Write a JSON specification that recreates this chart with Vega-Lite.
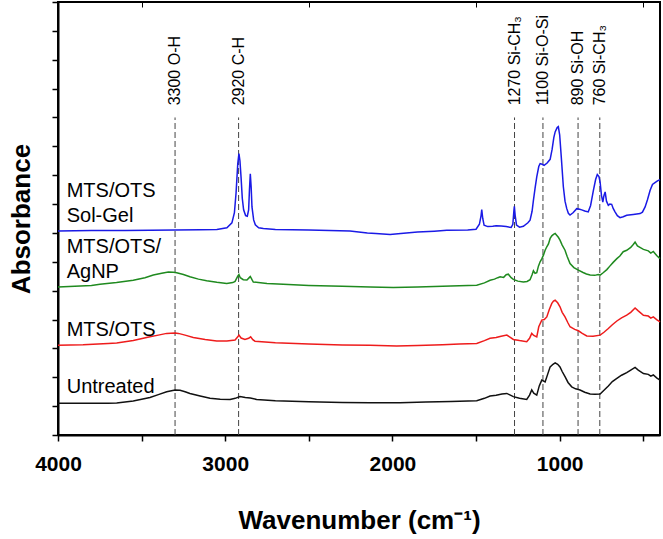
{
  "$schema": "https://vega.github.io/schema/vega-lite/v6.json",
  "width": 602,
  "height": 433,
  "autosize": {"type": "none"},
  "padding": {"left": 58, "top": 2, "right": 3, "bottom": 104},
  "background": "white",
  "config": {
    "view": {"stroke": "#000", "strokeWidth": 2},
    "font": "Liberation Sans"
  },
  "datasets": {
    "spectra": [
      {"series":"Sol-Gel","wn":4000,"abs":7.07},{"series":"Sol-Gel","wn":3800,"abs":7.08},{"series":"Sol-Gel","wn":3600,"abs":7.08},{"series":"Sol-Gel","wn":3450,"abs":7.09},{"series":"Sol-Gel","wn":3300,"abs":7.1},{"series":"Sol-Gel","wn":3150,"abs":7.11},{"series":"Sol-Gel","wn":3050,"abs":7.12},{"series":"Sol-Gel","wn":2990,"abs":7.18},{"series":"Sol-Gel","wn":2960,"abs":7.35},{"series":"Sol-Gel","wn":2945,"abs":7.7},{"series":"Sol-Gel","wn":2935,"abs":8.4},{"series":"Sol-Gel","wn":2925,"abs":9.4},{"series":"Sol-Gel","wn":2918,"abs":9.75},{"series":"Sol-Gel","wn":2912,"abs":9.5},{"series":"Sol-Gel","wn":2905,"abs":8.9},{"series":"Sol-Gel","wn":2898,"abs":8.2},{"series":"Sol-Gel","wn":2890,"abs":7.8},{"series":"Sol-Gel","wn":2878,"abs":7.6},{"series":"Sol-Gel","wn":2868,"abs":7.58},{"series":"Sol-Gel","wn":2860,"abs":7.8},{"series":"Sol-Gel","wn":2855,"abs":8.5},{"series":"Sol-Gel","wn":2850,"abs":9.05},{"series":"Sol-Gel","wn":2845,"abs":8.6},{"series":"Sol-Gel","wn":2840,"abs":7.9},{"series":"Sol-Gel","wn":2830,"abs":7.45},{"series":"Sol-Gel","wn":2820,"abs":7.28},{"series":"Sol-Gel","wn":2800,"abs":7.18},{"series":"Sol-Gel","wn":2772,"abs":7.15},{"series":"Sol-Gel","wn":2700,"abs":7.12},{"series":"Sol-Gel","wn":2500,"abs":7.1},{"series":"Sol-Gel","wn":2254,"abs":7.07},{"series":"Sol-Gel","wn":2150,"abs":7.0},{"series":"Sol-Gel","wn":2100,"abs":6.98},{"series":"Sol-Gel","wn":2014,"abs":6.95},{"series":"Sol-Gel","wn":1950,"abs":6.98},{"series":"Sol-Gel","wn":1850,"abs":7.03},{"series":"Sol-Gel","wn":1750,"abs":7.06},{"series":"Sol-Gel","wn":1675,"abs":7.09},{"series":"Sol-Gel","wn":1550,"abs":7.1},{"series":"Sol-Gel","wn":1500,"abs":7.13},{"series":"Sol-Gel","wn":1480,"abs":7.3},{"series":"Sol-Gel","wn":1470,"abs":7.6},{"series":"Sol-Gel","wn":1466,"abs":7.81},{"series":"Sol-Gel","wn":1460,"abs":7.5},{"series":"Sol-Gel","wn":1452,"abs":7.27},{"series":"Sol-Gel","wn":1430,"abs":7.22},{"series":"Sol-Gel","wn":1400,"abs":7.23},{"series":"Sol-Gel","wn":1380,"abs":7.25},{"series":"Sol-Gel","wn":1350,"abs":7.24},{"series":"Sol-Gel","wn":1320,"abs":7.22},{"series":"Sol-Gel","wn":1290,"abs":7.19},{"series":"Sol-Gel","wn":1280,"abs":7.3},{"series":"Sol-Gel","wn":1274,"abs":7.75},{"series":"Sol-Gel","wn":1271,"abs":7.92},{"series":"Sol-Gel","wn":1266,"abs":7.6},{"series":"Sol-Gel","wn":1258,"abs":7.27},{"series":"Sol-Gel","wn":1240,"abs":7.2},{"series":"Sol-Gel","wn":1217,"abs":7.23},{"series":"Sol-Gel","wn":1190,"abs":7.35},{"series":"Sol-Gel","wn":1177,"abs":7.44},{"series":"Sol-Gel","wn":1165,"abs":7.75},{"series":"Sol-Gel","wn":1157,"abs":8.13},{"series":"Sol-Gel","wn":1147,"abs":8.55},{"series":"Sol-Gel","wn":1137,"abs":8.94},{"series":"Sol-Gel","wn":1125,"abs":9.3},{"series":"Sol-Gel","wn":1117,"abs":9.4},{"series":"Sol-Gel","wn":1105,"abs":9.38},{"series":"Sol-Gel","wn":1093,"abs":9.34},{"series":"Sol-Gel","wn":1075,"abs":9.42},{"series":"Sol-Gel","wn":1057,"abs":9.55},{"series":"Sol-Gel","wn":1045,"abs":9.9},{"series":"Sol-Gel","wn":1035,"abs":10.3},{"series":"Sol-Gel","wn":1027,"abs":10.5},{"series":"Sol-Gel","wn":1015,"abs":10.65},{"series":"Sol-Gel","wn":1008,"abs":10.68},{"series":"Sol-Gel","wn":1000,"abs":10.4},{"series":"Sol-Gel","wn":990,"abs":9.6},{"series":"Sol-Gel","wn":978,"abs":8.6},{"series":"Sol-Gel","wn":968,"abs":8.1},{"series":"Sol-Gel","wn":958,"abs":7.85},{"series":"Sol-Gel","wn":948,"abs":7.68},{"series":"Sol-Gel","wn":938,"abs":7.62},{"series":"Sol-Gel","wn":920,"abs":7.7},{"series":"Sol-Gel","wn":898,"abs":7.84},{"series":"Sol-Gel","wn":880,"abs":7.82},{"series":"Sol-Gel","wn":868,"abs":7.8},{"series":"Sol-Gel","wn":850,"abs":7.76},{"series":"Sol-Gel","wn":829,"abs":7.73},{"series":"Sol-Gel","wn":815,"abs":7.95},{"series":"Sol-Gel","wn":798,"abs":8.48},{"series":"Sol-Gel","wn":785,"abs":8.85},{"series":"Sol-Gel","wn":775,"abs":9.02},{"series":"Sol-Gel","wn":765,"abs":8.95},{"series":"Sol-Gel","wn":758,"abs":8.75},{"series":"Sol-Gel","wn":750,"abs":8.3},{"series":"Sol-Gel","wn":742,"abs":8.07},{"series":"Sol-Gel","wn":735,"abs":8.3},{"series":"Sol-Gel","wn":728,"abs":8.42},{"series":"Sol-Gel","wn":720,"abs":8.1},{"series":"Sol-Gel","wn":709,"abs":7.96},{"series":"Sol-Gel","wn":700,"abs":8.0},{"series":"Sol-Gel","wn":689,"abs":7.99},{"series":"Sol-Gel","wn":680,"abs":7.85},{"series":"Sol-Gel","wn":669,"abs":7.73},{"series":"Sol-Gel","wn":655,"abs":7.6},{"series":"Sol-Gel","wn":639,"abs":7.53},{"series":"Sol-Gel","wn":620,"abs":7.56},{"series":"Sol-Gel","wn":599,"abs":7.61},{"series":"Sol-Gel","wn":560,"abs":7.64},{"series":"Sol-Gel","wn":519,"abs":7.67},{"series":"Sol-Gel","wn":505,"abs":7.72},{"series":"Sol-Gel","wn":489,"abs":7.9},{"series":"Sol-Gel","wn":475,"abs":8.15},{"series":"Sol-Gel","wn":459,"abs":8.48},{"series":"Sol-Gel","wn":445,"abs":8.68},{"series":"Sol-Gel","wn":430,"abs":8.74},{"series":"Sol-Gel","wn":415,"abs":8.8},{"series":"Sol-Gel","wn":400,"abs":8.85},

      {"series":"AgNP","wn":4000,"abs":5.13},{"series":"AgNP","wn":3900,"abs":5.15},{"series":"AgNP","wn":3800,"abs":5.18},{"series":"AgNP","wn":3749,"abs":5.22},{"series":"AgNP","wn":3650,"abs":5.28},{"series":"AgNP","wn":3550,"abs":5.36},{"series":"AgNP","wn":3480,"abs":5.45},{"series":"AgNP","wn":3430,"abs":5.54},{"series":"AgNP","wn":3380,"abs":5.6},{"series":"AgNP","wn":3340,"abs":5.65},{"series":"AgNP","wn":3310,"abs":5.64},{"series":"AgNP","wn":3290,"abs":5.62},{"series":"AgNP","wn":3250,"abs":5.56},{"series":"AgNP","wn":3211,"abs":5.48},{"series":"AgNP","wn":3160,"abs":5.4},{"series":"AgNP","wn":3111,"abs":5.34},{"series":"AgNP","wn":3050,"abs":5.29},{"series":"AgNP","wn":2991,"abs":5.25},{"series":"AgNP","wn":2955,"abs":5.28},{"series":"AgNP","wn":2941,"abs":5.32},{"series":"AgNP","wn":2925,"abs":5.5},{"series":"AgNP","wn":2918,"abs":5.56},{"series":"AgNP","wn":2910,"abs":5.45},{"series":"AgNP","wn":2892,"abs":5.38},{"series":"AgNP","wn":2870,"abs":5.37},{"series":"AgNP","wn":2855,"abs":5.46},{"series":"AgNP","wn":2850,"abs":5.49},{"series":"AgNP","wn":2840,"abs":5.38},{"series":"AgNP","wn":2832,"abs":5.3},{"series":"AgNP","wn":2750,"abs":5.25},{"series":"AgNP","wn":2653,"abs":5.22},{"series":"AgNP","wn":2500,"abs":5.18},{"series":"AgNP","wn":2300,"abs":5.15},{"series":"AgNP","wn":2134,"abs":5.13},{"series":"AgNP","wn":1995,"abs":5.11},{"series":"AgNP","wn":1850,"abs":5.13},{"series":"AgNP","wn":1700,"abs":5.15},{"series":"AgNP","wn":1600,"abs":5.17},{"series":"AgNP","wn":1496,"abs":5.19},{"series":"AgNP","wn":1450,"abs":5.27},{"series":"AgNP","wn":1416,"abs":5.36},{"series":"AgNP","wn":1390,"abs":5.4},{"series":"AgNP","wn":1370,"abs":5.45},{"series":"AgNP","wn":1356,"abs":5.48},{"series":"AgNP","wn":1335,"abs":5.46},{"series":"AgNP","wn":1320,"abs":5.55},{"series":"AgNP","wn":1307,"abs":5.57},{"series":"AgNP","wn":1290,"abs":5.45},{"series":"AgNP","wn":1277,"abs":5.39},{"series":"AgNP","wn":1250,"abs":5.33},{"series":"AgNP","wn":1217,"abs":5.3},{"series":"AgNP","wn":1195,"abs":5.32},{"series":"AgNP","wn":1177,"abs":5.38},{"series":"AgNP","wn":1165,"abs":5.55},{"series":"AgNP","wn":1157,"abs":5.69},{"series":"AgNP","wn":1147,"abs":5.6},{"series":"AgNP","wn":1137,"abs":5.62},{"series":"AgNP","wn":1127,"abs":5.85},{"series":"AgNP","wn":1117,"abs":6.0},{"series":"AgNP","wn":1107,"abs":6.1},{"series":"AgNP","wn":1097,"abs":6.23},{"series":"AgNP","wn":1087,"abs":6.4},{"series":"AgNP","wn":1077,"abs":6.52},{"series":"AgNP","wn":1067,"abs":6.62},{"series":"AgNP","wn":1057,"abs":6.81},{"series":"AgNP","wn":1047,"abs":6.9},{"series":"AgNP","wn":1037,"abs":6.95},{"series":"AgNP","wn":1027,"abs":6.98},{"series":"AgNP","wn":1018,"abs":6.92},{"series":"AgNP","wn":1008,"abs":6.85},{"series":"AgNP","wn":998,"abs":6.75},{"series":"AgNP","wn":985,"abs":6.58},{"series":"AgNP","wn":968,"abs":6.4},{"series":"AgNP","wn":955,"abs":6.18},{"series":"AgNP","wn":938,"abs":5.94},{"series":"AgNP","wn":915,"abs":5.8},{"series":"AgNP","wn":888,"abs":5.71},{"series":"AgNP","wn":860,"abs":5.63},{"series":"AgNP","wn":840,"abs":5.58},{"series":"AgNP","wn":818,"abs":5.54},{"series":"AgNP","wn":790,"abs":5.53},{"series":"AgNP","wn":770,"abs":5.56},{"series":"AgNP","wn":758,"abs":5.54},{"series":"AgNP","wn":740,"abs":5.62},{"series":"AgNP","wn":718,"abs":5.73},{"series":"AgNP","wn":700,"abs":5.85},{"series":"AgNP","wn":680,"abs":5.98},{"series":"AgNP","wn":658,"abs":6.11},{"series":"AgNP","wn":640,"abs":6.2},{"series":"AgNP","wn":620,"abs":6.35},{"series":"AgNP","wn":599,"abs":6.4},{"series":"AgNP","wn":575,"abs":6.5},{"series":"AgNP","wn":560,"abs":6.6},{"series":"AgNP","wn":549,"abs":6.68},{"series":"AgNP","wn":535,"abs":6.55},{"series":"AgNP","wn":520,"abs":6.5},{"series":"AgNP","wn":499,"abs":6.43},{"series":"AgNP","wn":470,"abs":6.38},{"series":"AgNP","wn":455,"abs":6.3},{"series":"AgNP","wn":440,"abs":6.36},{"series":"AgNP","wn":420,"abs":6.22},{"series":"AgNP","wn":400,"abs":6.11},

      {"series":"MTS/OTS","wn":4000,"abs":3.11},{"series":"MTS/OTS","wn":3850,"abs":3.13},{"series":"MTS/OTS","wn":3700,"abs":3.17},{"series":"MTS/OTS","wn":3649,"abs":3.19},{"series":"MTS/OTS","wn":3550,"abs":3.27},{"series":"MTS/OTS","wn":3450,"abs":3.4},{"series":"MTS/OTS","wn":3400,"abs":3.46},{"series":"MTS/OTS","wn":3350,"abs":3.52},{"series":"MTS/OTS","wn":3300,"abs":3.53},{"series":"MTS/OTS","wn":3280,"abs":3.52},{"series":"MTS/OTS","wn":3240,"abs":3.46},{"series":"MTS/OTS","wn":3191,"abs":3.38},{"series":"MTS/OTS","wn":3120,"abs":3.31},{"series":"MTS/OTS","wn":3051,"abs":3.26},{"series":"MTS/OTS","wn":2990,"abs":3.26},{"series":"MTS/OTS","wn":2941,"abs":3.29},{"series":"MTS/OTS","wn":2925,"abs":3.4},{"series":"MTS/OTS","wn":2918,"abs":3.46},{"series":"MTS/OTS","wn":2905,"abs":3.36},{"series":"MTS/OTS","wn":2882,"abs":3.31},{"series":"MTS/OTS","wn":2860,"abs":3.35},{"series":"MTS/OTS","wn":2848,"abs":3.4},{"series":"MTS/OTS","wn":2835,"abs":3.3},{"series":"MTS/OTS","wn":2822,"abs":3.25},{"series":"MTS/OTS","wn":2700,"abs":3.2},{"series":"MTS/OTS","wn":2500,"abs":3.15},{"series":"MTS/OTS","wn":2300,"abs":3.12},{"series":"MTS/OTS","wn":2134,"abs":3.11},{"series":"MTS/OTS","wn":1975,"abs":3.08},{"series":"MTS/OTS","wn":1850,"abs":3.1},{"series":"MTS/OTS","wn":1700,"abs":3.13},{"series":"MTS/OTS","wn":1600,"abs":3.15},{"series":"MTS/OTS","wn":1496,"abs":3.17},{"series":"MTS/OTS","wn":1450,"abs":3.27},{"series":"MTS/OTS","wn":1416,"abs":3.35},{"series":"MTS/OTS","wn":1380,"abs":3.38},{"series":"MTS/OTS","wn":1350,"abs":3.42},{"series":"MTS/OTS","wn":1316,"abs":3.46},{"series":"MTS/OTS","wn":1295,"abs":3.38},{"series":"MTS/OTS","wn":1277,"abs":3.31},{"series":"MTS/OTS","wn":1240,"abs":3.27},{"series":"MTS/OTS","wn":1197,"abs":3.23},{"series":"MTS/OTS","wn":1180,"abs":3.35},{"series":"MTS/OTS","wn":1167,"abs":3.52},{"series":"MTS/OTS","wn":1155,"abs":3.45},{"series":"MTS/OTS","wn":1137,"abs":3.4},{"series":"MTS/OTS","wn":1125,"abs":3.75},{"series":"MTS/OTS","wn":1107,"abs":3.98},{"series":"MTS/OTS","wn":1092,"abs":4.0},{"series":"MTS/OTS","wn":1077,"abs":4.09},{"series":"MTS/OTS","wn":1062,"abs":4.35},{"series":"MTS/OTS","wn":1047,"abs":4.56},{"series":"MTS/OTS","wn":1037,"abs":4.64},{"series":"MTS/OTS","wn":1027,"abs":4.67},{"series":"MTS/OTS","wn":1012,"abs":4.58},{"series":"MTS/OTS","wn":998,"abs":4.44},{"series":"MTS/OTS","wn":985,"abs":4.25},{"series":"MTS/OTS","wn":968,"abs":4.09},{"series":"MTS/OTS","wn":950,"abs":3.88},{"series":"MTS/OTS","wn":938,"abs":3.75},{"series":"MTS/OTS","wn":910,"abs":3.66},{"series":"MTS/OTS","wn":888,"abs":3.61},{"series":"MTS/OTS","wn":865,"abs":3.52},{"series":"MTS/OTS","wn":838,"abs":3.43},{"series":"MTS/OTS","wn":800,"abs":3.42},{"series":"MTS/OTS","wn":758,"abs":3.46},{"series":"MTS/OTS","wn":735,"abs":3.56},{"series":"MTS/OTS","wn":709,"abs":3.69},{"series":"MTS/OTS","wn":685,"abs":3.82},{"series":"MTS/OTS","wn":658,"abs":3.95},{"series":"MTS/OTS","wn":630,"abs":4.06},{"series":"MTS/OTS","wn":599,"abs":4.15},{"series":"MTS/OTS","wn":575,"abs":4.25},{"series":"MTS/OTS","wn":549,"abs":4.4},{"series":"MTS/OTS","wn":530,"abs":4.3},{"series":"MTS/OTS","wn":499,"abs":4.15},{"series":"MTS/OTS","wn":470,"abs":4.12},{"series":"MTS/OTS","wn":455,"abs":4.05},{"series":"MTS/OTS","wn":440,"abs":4.09},{"series":"MTS/OTS","wn":420,"abs":4.0},{"series":"MTS/OTS","wn":400,"abs":3.92},

      {"series":"Untreated","wn":4000,"abs":1.1},{"series":"Untreated","wn":3850,"abs":1.1},{"series":"Untreated","wn":3700,"abs":1.1},{"series":"Untreated","wn":3649,"abs":1.11},{"series":"Untreated","wn":3550,"abs":1.18},{"series":"Untreated","wn":3450,"abs":1.3},{"series":"Untreated","wn":3400,"abs":1.4},{"series":"Untreated","wn":3350,"abs":1.5},{"series":"Untreated","wn":3300,"abs":1.56},{"series":"Untreated","wn":3270,"abs":1.55},{"series":"Untreated","wn":3240,"abs":1.5},{"series":"Untreated","wn":3211,"abs":1.44},{"series":"Untreated","wn":3150,"abs":1.35},{"series":"Untreated","wn":3091,"abs":1.27},{"series":"Untreated","wn":3030,"abs":1.24},{"series":"Untreated","wn":2971,"abs":1.23},{"series":"Untreated","wn":2940,"abs":1.27},{"series":"Untreated","wn":2912,"abs":1.33},{"series":"Untreated","wn":2880,"abs":1.3},{"series":"Untreated","wn":2850,"abs":1.28},{"series":"Untreated","wn":2812,"abs":1.23},{"series":"Untreated","wn":2700,"abs":1.19},{"series":"Untreated","wn":2500,"abs":1.15},{"series":"Untreated","wn":2300,"abs":1.13},{"series":"Untreated","wn":2134,"abs":1.12},{"series":"Untreated","wn":1955,"abs":1.12},{"series":"Untreated","wn":1800,"abs":1.14},{"series":"Untreated","wn":1650,"abs":1.16},{"series":"Untreated","wn":1496,"abs":1.19},{"series":"Untreated","wn":1450,"abs":1.27},{"series":"Untreated","wn":1416,"abs":1.35},{"series":"Untreated","wn":1380,"abs":1.38},{"series":"Untreated","wn":1345,"abs":1.42},{"series":"Untreated","wn":1316,"abs":1.44},{"series":"Untreated","wn":1295,"abs":1.38},{"series":"Untreated","wn":1277,"abs":1.33},{"series":"Untreated","wn":1240,"abs":1.27},{"series":"Untreated","wn":1197,"abs":1.23},{"series":"Untreated","wn":1180,"abs":1.38},{"series":"Untreated","wn":1167,"abs":1.56},{"series":"Untreated","wn":1155,"abs":1.45},{"series":"Untreated","wn":1137,"abs":1.38},{"series":"Untreated","wn":1122,"abs":1.7},{"series":"Untreated","wn":1107,"abs":1.9},{"series":"Untreated","wn":1087,"abs":1.84},{"series":"Untreated","wn":1072,"abs":2.1},{"series":"Untreated","wn":1057,"abs":2.36},{"series":"Untreated","wn":1040,"abs":2.45},{"series":"Untreated","wn":1027,"abs":2.5},{"series":"Untreated","wn":1012,"abs":2.45},{"series":"Untreated","wn":998,"abs":2.36},{"series":"Untreated","wn":985,"abs":2.2},{"series":"Untreated","wn":968,"abs":2.02},{"series":"Untreated","wn":950,"abs":1.82},{"series":"Untreated","wn":928,"abs":1.67},{"series":"Untreated","wn":905,"abs":1.6},{"series":"Untreated","wn":878,"abs":1.56},{"series":"Untreated","wn":850,"abs":1.48},{"series":"Untreated","wn":818,"abs":1.42},{"series":"Untreated","wn":790,"abs":1.41},{"series":"Untreated","wn":758,"abs":1.42},{"series":"Untreated","wn":735,"abs":1.55},{"series":"Untreated","wn":709,"abs":1.7},{"series":"Untreated","wn":685,"abs":1.85},{"series":"Untreated","wn":658,"abs":1.96},{"series":"Untreated","wn":630,"abs":2.07},{"series":"Untreated","wn":599,"abs":2.16},{"series":"Untreated","wn":575,"abs":2.25},{"series":"Untreated","wn":549,"abs":2.34},{"series":"Untreated","wn":530,"abs":2.25},{"series":"Untreated","wn":499,"abs":2.13},{"series":"Untreated","wn":470,"abs":2.1},{"series":"Untreated","wn":455,"abs":2.04},{"series":"Untreated","wn":440,"abs":2.08},{"series":"Untreated","wn":420,"abs":1.98},{"series":"Untreated","wn":400,"abs":1.9}
    ],
    "peaks": [
      {"wn": 3300, "label": "3300 O-H"},
      {"wn": 2920, "label": "2920 C-H"},
      {"wn": 1270, "label": "1270 Si-CH₃"},
      {"wn": 1100, "label": "1100 Si-O-Si"},
      {"wn": 890, "label": "890 Si-OH"},
      {"wn": 760, "label": "760 Si-CH₃"}
    ]
  },
  "resolve": {"axis": {"x": "independent"}},
  "layer": [
    {
      "data": {"name": "peaks"},
      "mark": {"type": "rule", "color": "#444444", "strokeWidth": 1, "strokeDash": [6, 3]},
      "encoding": {
        "x": {"field": "wn", "type": "quantitative",
              "scale": {"domain": [400, 4000], "reverse": true, "nice": false, "zero": false},
              "axis": {"orient": "top", "values": [3500, 2500, 1500, 500], "labels": false, "title": null, "domain": false, "grid": false, "tickSize": -5, "tickColor": "#000", "tickWidth": 1}},
        "y": {"datum": 0, "type": "quantitative"},
        "y2": {"datum": 11}
      }
    },
    {
      "data": {"name": "spectra"},
      "mark": {"type": "line", "strokeWidth": 1.5, "interpolate": "linear"},
      "encoding": {
        "x": {"field": "wn", "type": "quantitative",
              "axis": {"orient": "bottom", "values": [4000, 3500, 3000, 2500, 2000, 1500, 1000, 500],
                       "labelExpr": "datum.value % 1000 === 0 ? datum.value : ''",
                       "title": "Wavenumber (cm⁻¹)", "grid": false,
                       "domainColor": "#000", "domainWidth": 2, "tickColor": "#000", "tickWidth": 1.5, "tickSize": 6,
                       "labelFont": "Liberation Sans", "labelFontSize": 21, "labelFontWeight": "bold", "labelColor": "#000",
                       "labelBaseline": "alphabetic", "labelPadding": 29, "labelFlush": false, "labelOverlap": false,
                       "titleFont": "Liberation Sans", "titleFontSize": 26, "titleFontWeight": "bold", "titleColor": "#000",
                       "titleBaseline": "alphabetic", "titleY": 93}},
        "y": {"field": "abs", "type": "quantitative",
              "scale": {"domain": [0, 15], "nice": false, "zero": false},
              "axis": {"tickCount": 15, "labels": false, "grid": false,
                       "domainColor": "#000", "domainWidth": 2, "tickColor": "#000", "tickWidth": 1.5, "tickSize": 6,
                       "title": "Absorbance", "titleFont": "Liberation Sans", "titleFontSize": 26, "titleFontWeight": "bold",
                       "titleColor": "#000", "titleAngle": -90, "titleBaseline": "alphabetic", "titleX": -29}},
        "color": {"field": "series", "type": "nominal",
                  "scale": {"domain": ["Sol-Gel", "AgNP", "MTS/OTS", "Untreated"], "range": ["#1a1ae6", "#1f8a1f", "#ee1c1c", "#111111"]},
                  "legend": null},
        "detail": {"field": "series"}
      }
    },
    {
      "data": {"name": "peaks"},
      "mark": {"type": "text", "angle": 270, "align": "left", "baseline": "middle", "fontSize": 16, "font": "Liberation Sans", "color": "#000"},
      "encoding": {
        "x": {"field": "wn", "type": "quantitative", "axis": null},
        "y": {"datum": 11.42, "type": "quantitative"},
        "text": {"field": "label"}
      }
    },
    {
      "data": {"values": [{}]},
      "mark": {"type": "text", "align": "left", "baseline": "alphabetic", "fontSize": 20, "font": "Liberation Sans", "color": "#000", "lineHeight": 25},
      "encoding": {
        "x": {"datum": 3948, "type": "quantitative", "axis": null},
        "y": {"datum": 8.25, "type": "quantitative"},
        "text": {"value": ["MTS/OTS", "Sol-Gel"]}
      }
    },
    {
      "data": {"values": [{}]},
      "mark": {"type": "text", "align": "left", "baseline": "alphabetic", "fontSize": 20, "font": "Liberation Sans", "color": "#000", "lineHeight": 25},
      "encoding": {
        "x": {"datum": 3948, "type": "quantitative", "axis": null},
        "y": {"datum": 6.3, "type": "quantitative"},
        "text": {"value": ["MTS/OTS/", "AgNP"]}
      }
    },
    {
      "data": {"values": [{}]},
      "mark": {"type": "text", "align": "left", "baseline": "alphabetic", "fontSize": 20, "font": "Liberation Sans", "color": "#000"},
      "encoding": {
        "x": {"datum": 3948, "type": "quantitative", "axis": null},
        "y": {"datum": 3.43, "type": "quantitative"},
        "text": {"value": "MTS/OTS"}
      }
    },
    {
      "data": {"values": [{}]},
      "mark": {"type": "text", "align": "left", "baseline": "alphabetic", "fontSize": 20, "font": "Liberation Sans", "color": "#000"},
      "encoding": {
        "x": {"datum": 3948, "type": "quantitative", "axis": null},
        "y": {"datum": 1.45, "type": "quantitative"},
        "text": {"value": "Untreated"}
      }
    }
  ]
}
